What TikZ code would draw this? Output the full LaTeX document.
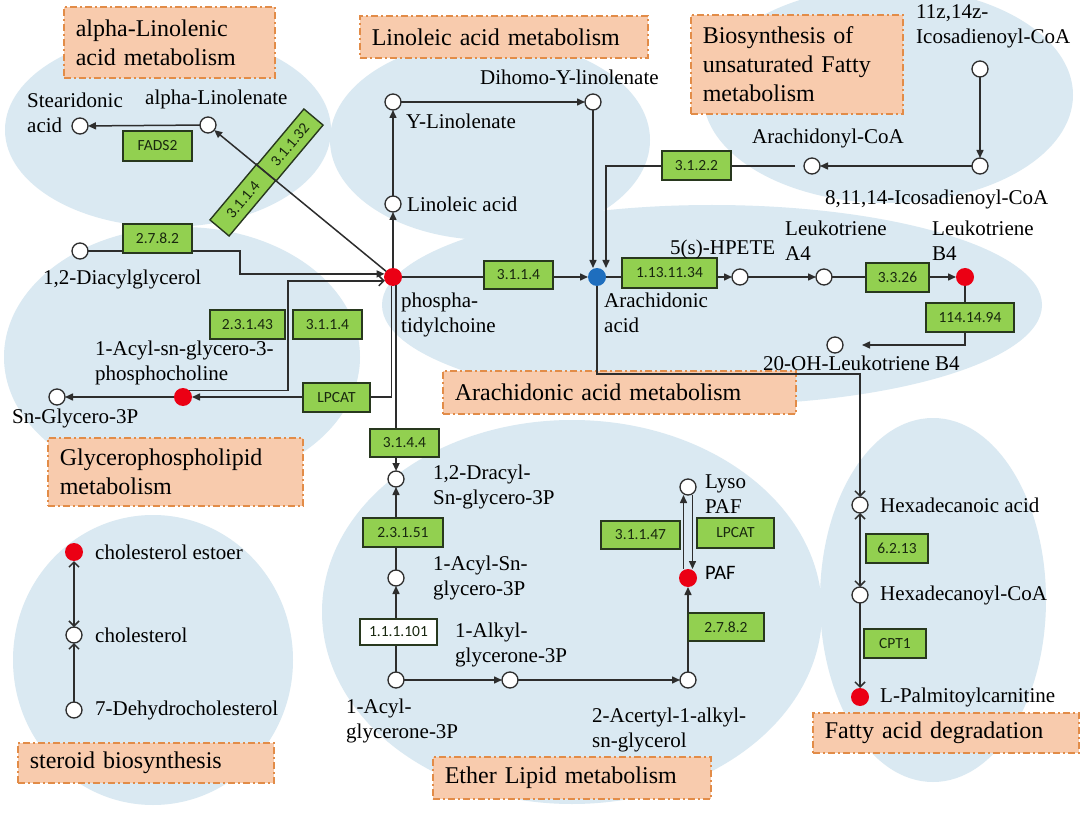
\documentclass[tikz,border=0pt]{standalone}
\usepackage{fontspec}
\setmainfont{Liberation Serif}
\newfontfamily\enzfam{Carlito}
\usetikzlibrary{arrows.meta}
\definecolor{blobc}{RGB}{218,233,242}
\definecolor{pfill}{RGB}{248,203,173}
\definecolor{pdraw}{RGB}{226,140,72}
\definecolor{enzf}{RGB}{146,208,80}
\definecolor{enzd}{RGB}{40,56,30}
\definecolor{enzt}{RGB}{25,40,15}
\definecolor{lined}{RGB}{45,45,45}
\definecolor{hitr}{RGB}{235,0,20}
\definecolor{hitb}{RGB}{30,110,190}
\newcommand\labfont{\fontsize{21}{25}\selectfont}
\newcommand\ttlfont{\fontsize{24}{29}\selectfont}
\newcommand\enzfont{\enzfam\fontsize{15.5}{18}\selectfont}
\newcommand\pafont{\enzfam\fontsize{20.5}{24}\selectfont}
\begin{document}
\begin{tikzpicture}[x=1pt,y=-1pt,
  pbox/.style={draw=pdraw, fill=pfill, line width=1.6pt, dash pattern=on 7pt off 3pt on 2pt off 3pt, inner xsep=12pt, inner ysep=2pt, align=left, font=\ttlfont, anchor=north west},
  enz/.style={draw=enzd, fill=enzf, line width=1.4pt, font=\enzfont, text=enzt, inner sep=0pt, minimum height=29pt},
  met/.style={circle, draw=lined, fill=white, line width=1.3pt, minimum size=16pt, inner sep=0pt, outer sep=0pt},
  hitred/.style={circle, fill=hitr, draw=none, minimum size=18pt, inner sep=0pt, outer sep=0pt},
  hitblue/.style={circle, fill=hitb, draw=none, minimum size=18pt, inner sep=0pt, outer sep=0pt},
  lab/.style={font=\labfont, anchor=west, align=left, inner sep=0pt},
  conn/.style={draw=lined, line width=1.5pt},
  arr/.style={conn, -{Triangle[length=8pt,width=7pt]}},
  oarr/.style={conn, -{Straight Barb[length=5pt,width=10pt]}},
  dbl/.style={conn, {Straight Barb[length=5pt,width=10pt]}-{Straight Barb[length=5pt,width=10pt]}}
]
\clip (0,0) rectangle (1080,813);
\fill[white] (0,0) rectangle (1080,813);
% background blobs
\fill[blobc] (168,130) ellipse [x radius=163pt, y radius=97pt];
\fill[blobc] (490,140) ellipse [x radius=160pt, y radius=100pt];
\fill[blobc] (888,95) ellipse [x radius=185pt, y radius=108pt];
\fill[blobc] (712,305) ellipse [x radius=330pt, y radius=100pt];
\fill[blobc] (182,357) ellipse [x radius=178pt, y radius=130pt];
\fill[blobc] (153,660) ellipse [x radius=140pt, y radius=145pt];
\fill[blobc] (572,612) ellipse [x radius=250pt, y radius=192pt];
\fill[blobc] (933,600) ellipse [x radius=113pt, y radius=182pt];
% pathway titles
\node[pbox, text width=187pt, minimum height=71pt] (t1) at (63,6) {alpha-Linolenic\\acid metabolism};
\node[pbox, text width=264pt, minimum height=42pt] (t2) at (359,15) {Linoleic acid metabolism};
\node[pbox, text width=188pt, minimum height=99pt] (t3) at (690,14) {Biosynthesis of\\unsaturated Fatty\\metabolism};
\node[pbox, text width=231pt, minimum height=68pt] (t4) at (47,437) {Glycerophospholipid\\metabolism};
\node[pbox, text width=329pt, minimum height=43pt] (t5) at (442,370) {Arachidonic acid metabolism};
\node[pbox, text width=232pt, minimum height=40pt] (t6) at (17,742) {steroid biosynthesis};
\node[pbox, text width=254pt, minimum height=42pt] (t7) at (432,756) {Ether Lipid metabolism};
\node[pbox, text width=242pt, minimum height=40pt] (t8) at (812,712) {Fatty acid degradation};
% metabolites
\node[met] (stear) at (80,126) {};
\node[met] (alin) at (208,125) {};
\node[met] (ylin) at (393,102) {};
\node[met] (dihomo) at (593,102) {};
\node[met] (lin) at (393,204) {};
\node[hitred] (pc) at (393,277) {};
\node[hitblue] (ara) at (597,277) {};
\node[met] (icosa) at (980,69) {};
\node[met] (icosb) at (980,166) {};
\node[met] (arcoa) at (812,166) {};
\node[met] (dag) at (80,251) {};
\node[hitred] (lpc) at (183,397) {};
\node[met] (sng) at (57,397) {};
\node[met] (hpete) at (740,277) {};
\node[met] (lta) at (824,277) {};
\node[hitred] (ltb) at (965,277) {};
\node[met] (oh) at (835,345) {};
\node[met] (hexa) at (860,505) {};
\node[met] (hexcoa) at (860,595) {};
\node[hitred] (lpalm) at (860,697) {};
\node[met] (dracyl) at (396,479) {};
\node[met] (acylsn) at (396,578) {};
\node[met] (acylg) at (396,680) {};
\node[met] (alkyl) at (510,680) {};
\node[met] (acert) at (688,680) {};
\node[hitred] (paf) at (688,578) {};
\node[met] (lyso) at (688,487) {};
\node[hitred] (estoer) at (74,552) {};
\node[met] (chol) at (74,635) {};
\node[met] (dehyd) at (74,710) {};
% connectors
\draw[arr] (alin) -- (stear);
\draw[arr] (dag) -| ([xshift=-144.5pt]pc.160) -- (pc.160);
\draw[oarr] (lpc.45) -| ([xshift=-97pt]pc.205) -- (pc.205);
\draw[arr] (pc.260) |- (lpc);
\draw[arr] (lpc) -- (sng);
\draw[arr] (pc.290) -- (pc.290 |- dracyl.north);
\draw[arr] (pc) -- (lin);
\draw[arr] (lin) -- (ylin);
\draw[arr] (ylin) -- (dihomo);
\draw[arr] (dihomo) -- (dihomo |- ara.north);
\draw[arr] (icosa) -- (icosb);
\draw[arr] (icosb) -- (arcoa);
\draw[arr] ([xshift=-9pt]arcoa.west) -| ([xshift=9pt]ara.north);
\draw[arr] (pc) -- (ara);
\draw[arr] (ara) -- (hpete);
\draw[arr] (hpete) -- (lta);
\draw[arr] (lta) -- (ltb);
\draw[arr] (ltb) |- ([xshift=19pt]oh.east);
\draw[oarr] (ara) |- ([yshift=123pt]hexa.north) -- (hexa);
\draw[dbl] (hexa) -- (hexcoa);
\draw[oarr] (hexcoa) -- (lpalm);
\draw[dbl] (estoer) -- (chol);
\draw[oarr] (dehyd) -- (chol);
\draw[arr] (acylg) -- (alkyl);
\draw[arr] (alkyl) -- (acert);
\draw[arr] (acert) -- (paf);
\draw[arr] (acylg) -- (acylsn);
\draw[arr] (acylsn) -- (dracyl);
\draw[arr] ([xshift=-4.5pt]paf.north) -- ([xshift=-4.5pt]lyso.south);
\draw[arr] ([xshift=4.5pt]lyso.south) -- ([xshift=4.5pt]paf.north);
% enzymes
\node[enz, minimum width=69pt, minimum height=30pt] (e1) at (157.5,146) {FADS2};
\node[enz, minimum width=69pt] (e2) at (157.5,238.5) {2.7.8.2};
\node[enz, minimum width=75pt] (e3) at (247.5,324.5) {2.3.1.43};
\node[enz, minimum width=69pt] (e4) at (327.5,324.5) {3.1.1.4};
\node[enz, minimum width=67pt] (e5) at (336.5,397.5) {LPCAT};
\node[enz, minimum width=69pt, minimum height=28pt] (e6) at (404.5,443) {3.1.4.4};
\node[enz, minimum width=69pt, minimum height=28pt] (e7) at (518.5,275) {3.1.1.4};
\node[enz, minimum width=95pt, minimum height=30pt] (e8) at (669.5,273) {1.13.11.34};
\node[enz, minimum width=69pt] (e9) at (696.5,165.5) {3.1.2.2};
\node[enz, minimum width=63pt] (e10) at (897.5,277.5) {3.3.26};
\node[enz, minimum width=88pt] (e11) at (970,317.5) {114.14.94};
\node[enz, minimum width=62pt] (e12) at (897,548.5) {6.2.13};
\node[enz, minimum width=62pt] (e13) at (895,643.5) {CPT1};
\node[enz, minimum width=80pt] (e14) at (403,532.5) {2.3.1.51};
\node[enz, fill=white, minimum width=77pt, minimum height=26pt] (e15) at (398.5,632) {1.1.1.101};
\node[enz, minimum width=79pt, minimum height=28pt] (e16) at (640.5,535) {3.1.1.47};
\node[enz, minimum width=77pt, minimum height=30pt] (e17) at (735.5,533) {LPCAT};
\node[enz, minimum width=76pt, minimum height=28pt] (e18) at (726,627) {2.7.8.2};
\node[enz, rotate=50, minimum width=73pt, minimum height=25pt] (e19) at (243,200) {3.1.1.4};
\node[enz, rotate=50, minimum width=73pt, minimum height=25pt] (e20) at (290,145) {3.1.1.32};
\draw[arr] (pc) -- (alin);
% labels
\node[lab] (l1) at (27,113) {Stearidonic\\acid};
\node[lab] (l2) at (145,99) {alpha-Linolenate};
\node[lab] (l3) at (406,121) {Y-Linolenate};
\node[lab] (l4) at (407,204) {Linoleic acid};
\node[lab] (l5) at (480,77) {Dihomo-Y-linolenate};
\node[lab] (l6) at (916,26) {11z,14z-\\Icosadienoyl-CoA};
\node[lab] (l7) at (752,138) {Arachidonyl-CoA};
\node[lab] (l8) at (825,199) {8,11,14-Icosadienoyl-CoA};
\node[lab] (l9) at (43,279) {1,2-Diacylglycerol};
\node[lab] (l10) at (401,314.5) {phospha-\\tidylchoine};
\node[lab] (l11) at (604,312.5) {Arachidonic\\acid};
\node[lab] (l12) at (670,249) {5(s)-HPETE};
\node[lab] (l13) at (785,240.5) {Leukotriene\\A4};
\node[lab] (l14) at (932,240.5) {Leukotriene\\B4};
\node[lab] (l15) at (763,363) {20-OH-Leukotriene B4};
\node[lab] (l16) at (95,363) {1-Acyl-sn-glycero-3-\\phosphocholine};
\node[lab] (l17) at (12,418) {Sn-Glycero-3P};
\node[lab] (l18) at (433,487) {1,2-Dracyl-\\Sn-glycero-3P};
\node[lab] (l19) at (433,578) {1-Acyl-Sn-\\glycero-3P};
\node[lab] (l20) at (455,645) {1-Alkyl-\\glycerone-3P};
\node[lab] (l21) at (346,720.5) {1-Acyl-\\glycerone-3P};
\node[lab] (l22) at (592,729.5) {2-Acertyl-1-alkyl-\\sn-glycerol};
\node[lab] (l23) at (705,494.5) {Lyso\\PAF};
\node[lab, font=\pafont] (l24) at (705,573) {PAF};
\node[lab] (l25) at (880,505) {Hexadecanoic acid};
\node[lab] (l26) at (880,595) {Hexadecanoyl-CoA};
\node[lab] (l27) at (880,697) {L-Palmitoylcarnitine};
\node[lab] (l28) at (95,552) {cholesterol estoer};
\node[lab] (l29) at (95,635) {cholesterol};
\node[lab] (l30) at (95,710) {7-Dehydrocholesterol};
\end{tikzpicture}
\end{document}
